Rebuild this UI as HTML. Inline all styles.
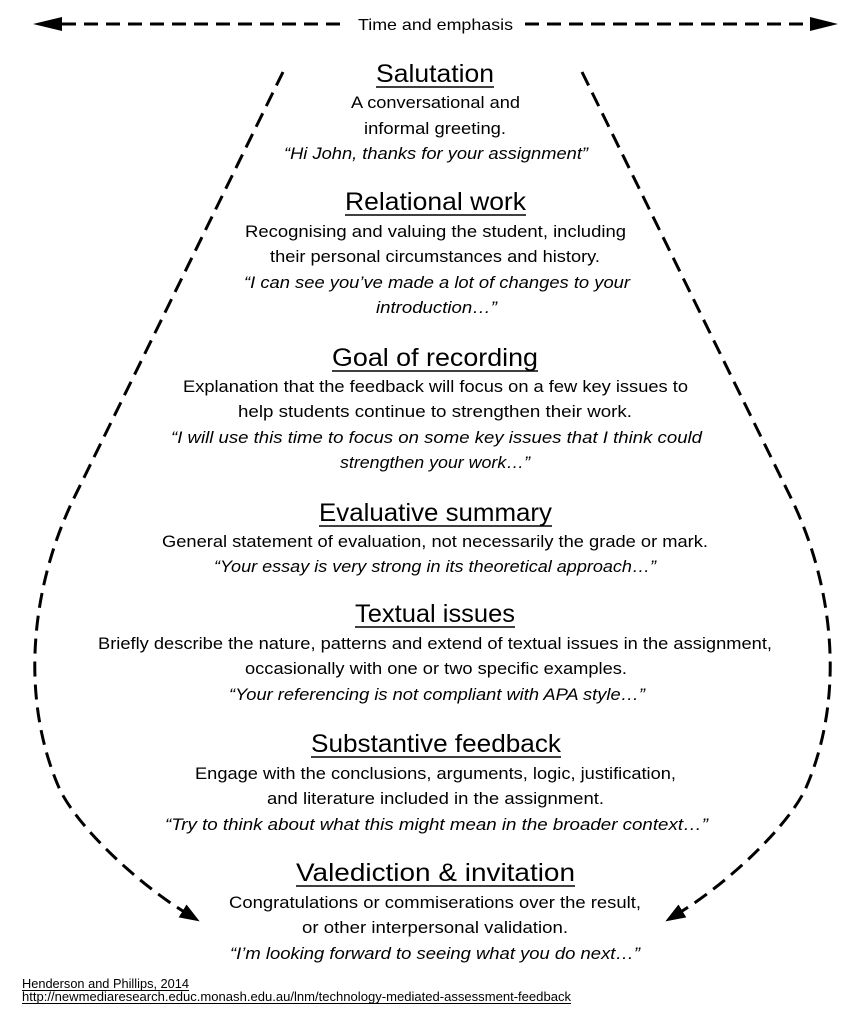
<!DOCTYPE html>
<html>
<head>
<meta charset="utf-8">
<style>
  html, body { margin:0; padding:0; background:#fff; }
  svg { display:block; }
  text { font-family: "Liberation Sans", "DejaVu Sans", sans-serif; fill:#000; }
  .t { font-size:25px; }
  .b { font-size:17px; }
  .i { font-size:17px; font-style:italic; }
  .f { font-size:13px; }
</style>
</head>
<body>
<svg width="858" height="1024" viewBox="0 0 858 1024" xmlns="http://www.w3.org/2000/svg">
  <defs>
    <marker id="ah" markerUnits="userSpaceOnUse" markerWidth="22" markerHeight="18" refX="4" refY="9" orient="auto">
      <path d="M0,1.5 L20,9 L0,16.5 Z" fill="#000"/>
    </marker>
  </defs>

  <!-- Top arrow -->
  <line x1="62" y1="24" x2="347" y2="24" stroke="#000" stroke-width="3" stroke-dasharray="14 8"/>
  <polygon points="33,24 62,17 62,31" fill="#000"/>
  <line x1="525" y1="24" x2="810" y2="24" stroke="#000" stroke-width="3" stroke-dasharray="14 8"/>
  <polygon points="838,24 810,17 810,31" fill="#000"/>
  <text class="b" x="435.5" y="30" text-anchor="middle" textLength="155" lengthAdjust="spacingAndGlyphs" style="font-size:16px">Time and emphasis</text>

  <!-- Curves -->
  <path d="M283,72 L73,500 C30,590 20,700 60,790 C80,830 140,885 186,913" fill="none" stroke="#000" stroke-width="3" stroke-dasharray="15 8" marker-end="url(#ah)"/>
  <path d="M582,72 L792,500 C835,590 845,700 805,790 C785,830 725,885 679,913" fill="none" stroke="#000" stroke-width="3" stroke-dasharray="15 8" marker-end="url(#ah)"/>

  <!-- Salutation -->
  <text class="t" x="435" y="82" text-anchor="middle" textLength="118" lengthAdjust="spacingAndGlyphs">Salutation</text>
  <line x1="376" y1="87" x2="494" y2="87" stroke="#000" stroke-width="1.6"/>
  <text class="b" x="435.5" y="108" text-anchor="middle" textLength="169" lengthAdjust="spacingAndGlyphs">A conversational and</text>
  <text class="b" x="435" y="134" text-anchor="middle" textLength="142" lengthAdjust="spacingAndGlyphs">informal greeting.</text>
  <text class="i" x="436" y="159" text-anchor="middle" textLength="304" lengthAdjust="spacingAndGlyphs">“Hi John, thanks for your assignment”</text>

  <!-- Relational work -->
  <text class="t" x="435.5" y="210" text-anchor="middle" textLength="181" lengthAdjust="spacingAndGlyphs">Relational work</text>
  <line x1="345" y1="215" x2="526" y2="215" stroke="#000" stroke-width="1.6"/>
  <text class="b" x="435.5" y="237" text-anchor="middle" textLength="381" lengthAdjust="spacingAndGlyphs">Recognising and valuing the student, including</text>
  <text class="b" x="435" y="262" text-anchor="middle" textLength="330" lengthAdjust="spacingAndGlyphs">their personal circumstances and history.</text>
  <text class="i" x="437" y="288" text-anchor="middle" textLength="386" lengthAdjust="spacingAndGlyphs">“I can see you’ve made a lot of changes to your</text>
  <text class="i" x="436.5" y="313" text-anchor="middle" textLength="121" lengthAdjust="spacingAndGlyphs">introduction…”</text>

  <!-- Goal of recording -->
  <text class="t" x="435" y="366" text-anchor="middle" textLength="206" lengthAdjust="spacingAndGlyphs">Goal of recording</text>
  <line x1="332" y1="371" x2="538" y2="371" stroke="#000" stroke-width="1.6"/>
  <text class="b" x="435.5" y="392" text-anchor="middle" textLength="505" lengthAdjust="spacingAndGlyphs">Explanation that the feedback will focus on a few key issues to</text>
  <text class="b" x="435" y="417" text-anchor="middle" textLength="394" lengthAdjust="spacingAndGlyphs">help students continue to strengthen their work.</text>
  <text class="i" x="436.5" y="443" text-anchor="middle" textLength="531" lengthAdjust="spacingAndGlyphs">“I will use this time to focus on some key issues that I think could</text>
  <text class="i" x="435" y="468" text-anchor="middle" textLength="190" lengthAdjust="spacingAndGlyphs">strengthen your work…”</text>

  <!-- Evaluative summary -->
  <text class="t" x="435.5" y="521" text-anchor="middle" textLength="233" lengthAdjust="spacingAndGlyphs">Evaluative summary</text>
  <line x1="319" y1="526" x2="552" y2="526" stroke="#000" stroke-width="1.6"/>
  <text class="b" x="435" y="547" text-anchor="middle" textLength="546" lengthAdjust="spacingAndGlyphs">General statement of evaluation, not necessarily the grade or mark.</text>
  <text class="i" x="435" y="572" text-anchor="middle" textLength="442" lengthAdjust="spacingAndGlyphs">“Your essay is very strong in its theoretical approach…”</text>

  <!-- Textual issues -->
  <text class="t" x="435" y="622" text-anchor="middle" textLength="160" lengthAdjust="spacingAndGlyphs">Textual issues</text>
  <line x1="355" y1="627" x2="515" y2="627" stroke="#000" stroke-width="1.6"/>
  <text class="b" x="435" y="649" text-anchor="middle" textLength="674" lengthAdjust="spacingAndGlyphs">Briefly describe the nature, patterns and extend of textual issues in the assignment,</text>
  <text class="b" x="436" y="674" text-anchor="middle" textLength="382" lengthAdjust="spacingAndGlyphs">occasionally with one or two specific examples.</text>
  <text class="i" x="437" y="700" text-anchor="middle" textLength="416" lengthAdjust="spacingAndGlyphs">“Your referencing is not compliant with APA style…”</text>

  <!-- Substantive feedback -->
  <text class="t" x="436" y="752" text-anchor="middle" textLength="250" lengthAdjust="spacingAndGlyphs">Substantive feedback</text>
  <line x1="311" y1="757" x2="561" y2="757" stroke="#000" stroke-width="1.6"/>
  <text class="b" x="435.5" y="779" text-anchor="middle" textLength="481" lengthAdjust="spacingAndGlyphs">Engage with the conclusions, arguments, logic, justification,</text>
  <text class="b" x="435.5" y="804" text-anchor="middle" textLength="337" lengthAdjust="spacingAndGlyphs">and literature included in the assignment.</text>
  <text class="i" x="436.5" y="830" text-anchor="middle" textLength="543" lengthAdjust="spacingAndGlyphs">“Try to think about what this might mean in the broader context…”</text>

  <!-- Valediction & invitation -->
  <text class="t" x="435.5" y="881" text-anchor="middle" textLength="279" lengthAdjust="spacingAndGlyphs">Valediction &amp; invitation</text>
  <line x1="296" y1="886" x2="575" y2="886" stroke="#000" stroke-width="1.6"/>
  <text class="b" x="435" y="908" text-anchor="middle" textLength="412" lengthAdjust="spacingAndGlyphs">Congratulations or commiserations over the result,</text>
  <text class="b" x="435" y="933" text-anchor="middle" textLength="266" lengthAdjust="spacingAndGlyphs">or other interpersonal validation.</text>
  <text class="i" x="435" y="959" text-anchor="middle" textLength="410" lengthAdjust="spacingAndGlyphs">“I’m looking forward to seeing what you do next…”</text>

  <!-- Footer -->
  <text class="f" x="22" y="988" textLength="167" lengthAdjust="spacingAndGlyphs">Henderson and Phillips, 2014</text>
  <line x1="22" y1="990.5" x2="189" y2="990.5" stroke="#000" stroke-width="1"/>
  <text class="f" x="22" y="1001" textLength="549" lengthAdjust="spacingAndGlyphs">http://newmediaresearch.educ.monash.edu.au/lnm/technology-mediated-assessment-feedback</text>
  <line x1="22" y1="1003.5" x2="571" y2="1003.5" stroke="#000" stroke-width="1"/>
</svg>
</body>
</html>
